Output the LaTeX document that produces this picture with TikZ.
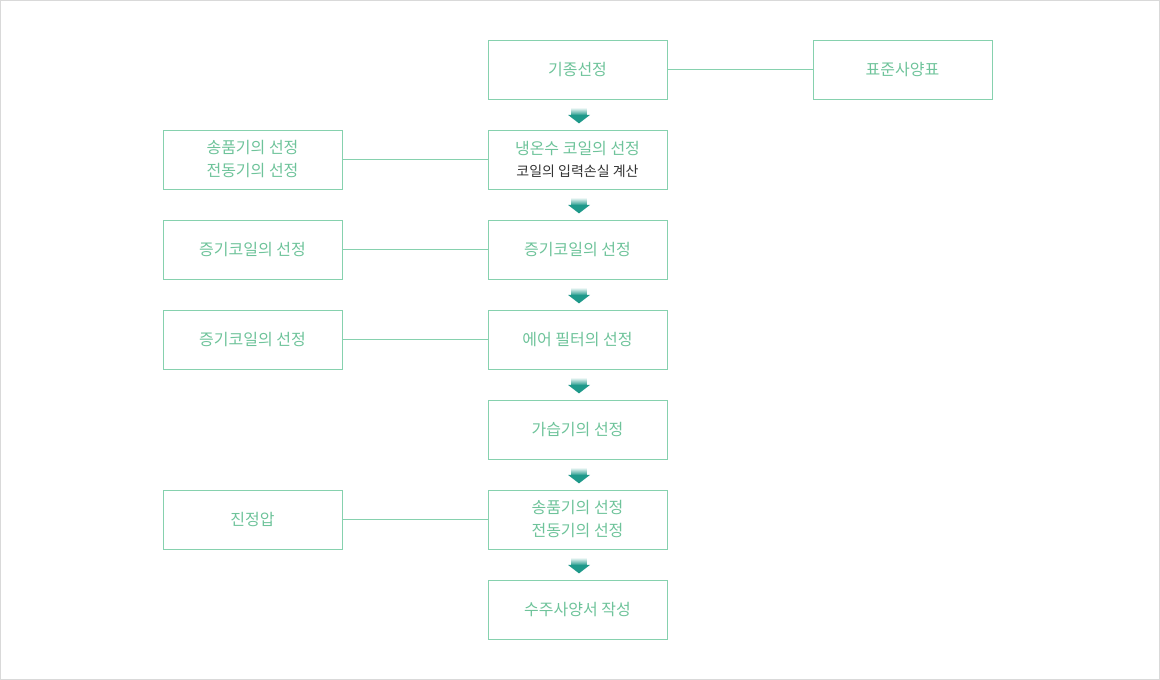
\documentclass[tikz,border=0pt]{standalone}
\usepackage{fontspec}
\setmainfont{Noto Sans CJK KR}
\usetikzlibrary{calc}
\definecolor{boxline}{HTML}{86D1AE}
\definecolor{boxtext}{HTML}{6EC39A}
\definecolor{arrteal}{HTML}{1E998A}
\newcommand{\flowarr}[1]{%
  \begin{scope}[shift={(#1.south)}]
    \shade[top color=white,bottom color=arrteal] (-6,8) rectangle (9,16);
    \fill[arrteal] (-9.5,15.5)--(12.5,15.5)--(1.5,24)--cycle;
  \end{scope}}

\begin{document}
\begin{tikzpicture}[x=1pt,y=-1pt,
    stepbox/.style={draw=boxline,line width=0.8pt,minimum width=179pt,minimum height=59pt,
      inner sep=0pt,text=boxtext,font=\fontsize{16}{23}\selectfont,align=center},
    link/.style={draw=boxline,line width=0.8pt}]
    \useasboundingbox (0,0) rectangle (1160,680);
    \draw[black!15] (0.5,0.5) rectangle (1159.5,679.5);

    \node[stepbox](sel) at (577.5,69.5){기종선정};
    \node[stepbox](std) at (902.5,69.5){표준사양표};
    \node[stepbox](coil) at (577.5,159.5){냉온수 코일의 선정\\[-1pt]{\fontsize{14}{17}\selectfont\color{black!80}코일의 입력손실 계산}};
    \node[stepbox](steam) at (577.5,249.5){증기코일의 선정};
    \node[stepbox](filter) at (577.5,339.5){에어 필터의 선정};
    \node[stepbox](humid) at (577.5,429.5){가습기의 선정};
    \node[stepbox](fan) at (577.5,519.5){송품기의 선정\\전동기의 선정};
    \node[stepbox](order) at (577.5,609.5){수주사양서 작성};

    \node[stepbox](fanL) at (252.5,159.5){송품기의 선정\\전동기의 선정};
    \node[stepbox](steamL) at (252.5,249.5){증기코일의 선정};
    \node[stepbox](steamM) at (252.5,339.5){증기코일의 선정};
    \node[stepbox](press) at (252.5,519.5){진정압};

    \draw[link](sel)--(std);
    \draw[link](fanL)--(coil);
    \draw[link](steamL)--(steam);
    \draw[link](steamM)--(filter);
    \draw[link](press)--(fan);

    \flowarr{sel}
    \flowarr{coil}
    \flowarr{steam}
    \flowarr{filter}
    \flowarr{humid}
    \flowarr{fan}
\end{tikzpicture}
\end{document}
